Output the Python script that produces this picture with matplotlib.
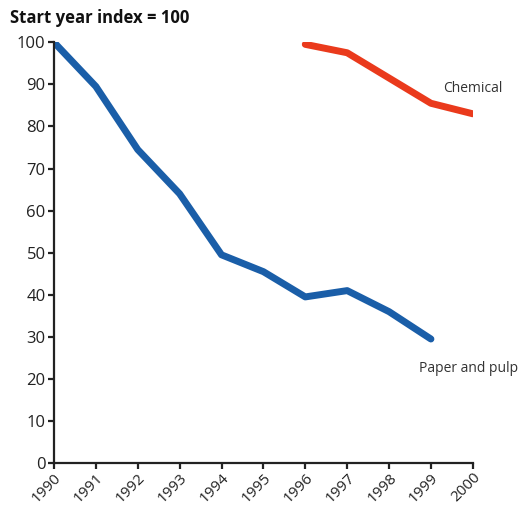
import matplotlib
matplotlib.use("Agg")
import matplotlib.pyplot as plt

# Data
years_paper = [1990, 1991, 1992, 1993, 1994, 1995, 1996, 1997, 1998, 1999]
paper_pulp = [100, 89.5, 74.5, 64, 49.5, 45.5, 39.5, 41, 36, 29.5]

years_chem = [1996, 1997, 1998, 1999, 2000]
chemical = [99.5, 97.5, 91.5, 85.5, 83]

year_ticks = list(range(1990, 2001))
y_ticks = list(range(0, 101, 10))

plt.rcParams['font.family'] = ['Open Sans', 'DejaVu Sans']

fig = plt.figure(figsize=(5.19, 5.09), dpi=100)
ax = fig.add_axes([0.104, 0.090, 0.807, 0.827])

ax.plot(years_paper, paper_pulp, color='#1a5ea8', lw=5, solid_capstyle='round', solid_joinstyle='round')
ax.plot(years_chem, chemical, color='#ea3a1c', lw=5, solid_capstyle='round', solid_joinstyle='round')

ax.set_xlim(1990, 2000)
ax.set_ylim(0, 100)
ax.set_xticks(year_ticks)
ax.set_xticklabels([str(y) for y in year_ticks], rotation=45, ha='right', va='top',
                   rotation_mode='anchor')
ax.set_yticks(y_ticks)

for s in ['top', 'right']:
    ax.spines[s].set_visible(False)
for s in ['left', 'bottom']:
    ax.spines[s].set_color('#222222')
    ax.spines[s].set_linewidth(1.6)
    ax.spines[s].set_clip_on(False)

ax.tick_params(axis='both', length=4, width=1.6, color='#222222', labelsize=12,
               labelcolor='#222222', pad=2)
ax.tick_params(axis='x', labelsize=11, pad=1)

ax.text(1999.28, 89, 'Chemical', fontsize=10, color='#333333', ha='left', va='center')
ax.text(1998.72, 22.6, 'Paper and pulp', fontsize=10, color='#333333', ha='left', va='center')

fig.text(0.019, 0.965, 'Start year index = 100', fontsize=12, fontweight='bold',
         color='#111111', ha='left', va='center')

fig.savefig('out.png', dpi=100)
